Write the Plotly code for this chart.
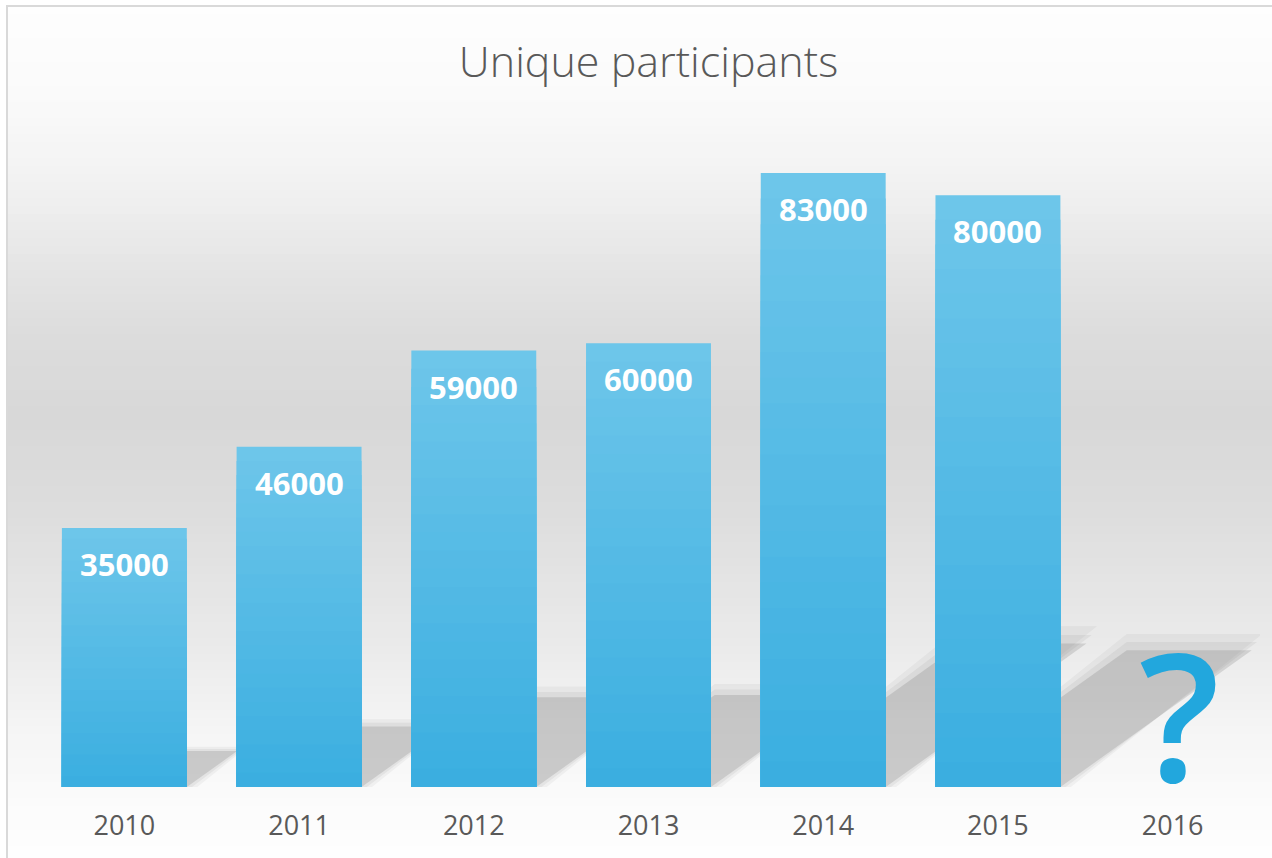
import plotly.graph_objects as go

years = ["2010", "2011", "2012", "2013", "2014", "2015", "2016"]
participants = [35000, 46000, 59000, 60000, 83000, 80000, None]
value_labels = ["35000", "46000", "59000", "60000", "83000", "80000", ""]
title_text = "Unique participants"
unknown_mark = "?"

W, H = 1272, 858
ML, MR, MT, MB = 37, 12, 121, 71
plot_w = W - ML - MR
plot_h = H - MT - MB

def px_to_paper_y(py):
    return (H - MB - py) / plot_h

def px_to_paper_x(px):
    return (px - ML) / plot_w

fig = go.Figure()

top_rgb = (110, 198, 234)
bot_rgb = (58, 174, 224)
N = 24
vals = [v for v in participants if v is not None]
cats = years[:len(vals)]
for k in range(N):
    t = (k + 0.5) / N
    c = tuple(round(top_rgb[i] + (bot_rgb[i] - top_rgb[i]) * t) for i in range(3))
    frac = 1 - k / N
    fig.add_trace(go.Bar(
        x=cats, y=[v * frac for v in vals],
        marker=dict(color="rgb(%d,%d,%d)" % c, line=dict(width=0)),
        hoverinfo="skip", showlegend=False,
    ))

annotations = []
for i, (v, lab) in enumerate(zip(participants, value_labels)):
    if v is None:
        continue
    annotations.append(dict(x=i, y=v, xref="x", yref="y", text="<b>%s</b>" % lab, showarrow=False,
                            yanchor="middle", yshift=-36,
                            font=dict(family="Open Sans", size=31, color="white")))
annotations.append(dict(x=len(years) - 1, y=0, xref="x", yref="y", text=unknown_mark,
                        showarrow=False, yanchor="bottom", yshift=-49, xshift=7,
                        font=dict(family="Open Sans", size=178, color="#22a7dd", weight=600)))

shapes = []
stops = [(6, 254), (100, 250), (180, 242), (260, 230), (340, 220), (420, 216),
         (500, 220), (580, 228), (660, 236), (740, 246), (800, 251), (858, 254)]
def gray_at(py):
    for (y0, g0), (y1, g1) in zip(stops[:-1], stops[1:]):
        if y0 <= py <= y1:
            return g0 + (g1 - g0) * (py - y0) / (y1 - y0)
    return 254
step = 8
py = 6
while py < H:
    g = round(gray_at(py + step / 2))
    shapes.append(dict(type="rect", xref="paper", yref="paper", layer="below",
                       x0=px_to_paper_x(8), x1=px_to_paper_x(W + 5),
                       y0=px_to_paper_y(py + step + 0.5), y1=px_to_paper_y(py),
                       fillcolor="rgb(%d,%d,%d)" % (g, g, g), line=dict(width=0)))
    py += step

px_per_unit = 614 / 83000
half = 0.3575
for i, v in enumerate(vals):
    h_px = 2.24 * v / 1000 - 42.5
    h = h_px / px_per_unit
    d = 1.4 * h_px / (plot_w / len(years))
    for grow, op in [(0.06, 0.06), (0.03, 0.08), (0.0, 0.18)]:
        x0 = i - half
        x1 = i + half + grow
        hh = h * (1 + grow * 2)
        path = "M %f,0 L %f,0 L %f,%f L %f,%f Z" % (x0, x1, x1 + d, hh, x0 + d, hh)
        shapes.append(dict(type="path", xref="x", yref="y", layer="below", path=path,
                           fillcolor="rgba(90,90,90,%f)" % op, line=dict(width=0)))

shapes.append(dict(type="line", xref="paper", yref="paper", x0=px_to_paper_x(7), x1=px_to_paper_x(7),
                   y0=px_to_paper_y(H + 5), y1=px_to_paper_y(6), line=dict(color="#d9d9d9", width=2)))
shapes.append(dict(type="line", xref="paper", yref="paper", x0=px_to_paper_x(6), x1=px_to_paper_x(W + 5),
                   y0=px_to_paper_y(6), y1=px_to_paper_y(6), line=dict(color="#d9d9d9", width=2)))

fig.update_layout(
    width=W, height=H,
    margin=dict(l=ML, r=MR, t=MT, b=MB),
    paper_bgcolor="white", plot_bgcolor="rgba(0,0,0,0)",
    barmode="overlay", bargap=0.285,
    title=dict(text=title_text, x=0.5, xref="paper", xanchor="center", y=1 - 62 / H, yanchor="middle",
               font=dict(family="Open Sans", size=43, color="#595959", weight=300)),
    shapes=shapes,
    annotations=annotations,
    showlegend=False,
)
fig.update_xaxes(type="category", categoryorder="array", categoryarray=years,
                 range=[-0.5, len(years) - 0.5],
                 showgrid=False, zeroline=False, showline=False, ticks="",
                 tickfont=dict(family="Open Sans", size=27, color="#595959"),
                 ticklabelstandoff=20)
fig.update_yaxes(range=[0, 666 / px_per_unit], visible=False, showgrid=False, zeroline=False)

fig.write_html("out.html", config={"displayModeBar": False},
               post_script="document.body.style.margin='0px';")
